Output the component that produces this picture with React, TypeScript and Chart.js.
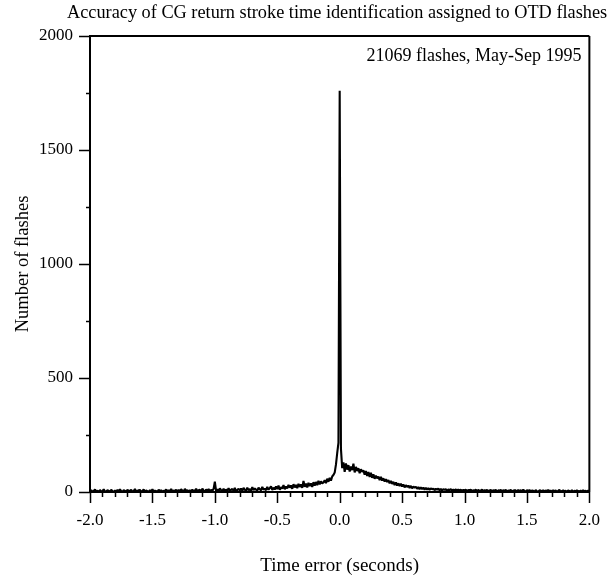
import React, { useEffect, useRef } from "react";
import { Chart, registerables } from "chart.js";

Chart.register(...registerables);

const TITLE = "Accuracy of CG return stroke time identification assigned to OTD flashes";
const NOTE = "21069 flashes, May-Sep 1995";
const X_TITLE = "Time error (seconds)";
const Y_TITLE = "Number of flashes";

// bin start and width (seconds), bins from -2.00 to 2.00
const BIN_FIRST = -2.0;
const BIN_WIDTH = 0.01;

// counts per 0.01 s bin, -2.00 .. -0.01
const countsNeg: number[] = [
  2, 8, 1, 5, 11, 3, 6, 0, 9, 2, 4, 12, 1, 3, 8, 5, 2, 10, 4, 1,
  6, 2, 9, 1, 12, 4, 0, 8, 5, 1, 10, 3, 6, 9, 2, 4, 13, 2, 5, 8,
  9, 2, 5, 11, 1, 7, 4, 0, 8, 3, 12, 2, 6, 4, 1, 10, 3, 8, 2, 5,
  4, 11, 2, 8, 3, 13, 1, 7, 4, 10, 2, 9, 3, 12, 6, 1, 14, 4, 8, 3,
  7, 3, 11, 2, 6, 14, 3, 8, 10, 2, 15, 5, 3, 11, 6, 13, 2, 9, 5, 14,
  45, 4, 12, 3, 16, 8, 4, 14, 3, 11, 6, 17, 4, 10, 13, 5, 18, 3, 9, 14,
  7, 15, 5, 18, 9, 6, 19, 8, 13, 5, 21, 8, 16, 10, 6, 19, 12, 7, 22, 11,
  14, 8, 22, 10, 17, 25, 9, 19, 11, 24, 13, 28, 10, 21, 15, 30, 12, 24, 16, 31,
  19, 29, 14, 34, 20, 31, 17, 36, 22, 33, 18, 48, 23, 37, 20, 40, 26, 38, 22, 43,
  28, 44, 30, 49, 33, 47, 38, 42, 52, 39, 58, 45, 62, 50, 68, 75, 85, 120, 170, 215,
];
// count in the 0.00 bin
const countsZero: number[] = [1760];
// counts per 0.01 s bin, 0.01 .. 2.00
const countsPos: number[] = [
  190, 105, 130, 88, 125, 98, 118, 90, 112, 96, 124, 86, 110, 92, 104, 82, 100, 88, 95, 76,
  92, 70, 88, 66, 84, 62, 78, 58, 72, 60, 68, 52, 66, 50, 60, 46, 56, 44, 52, 38,
  48, 36, 44, 30, 42, 28, 38, 26, 36, 24, 33, 20, 30, 22, 28, 18, 27, 16, 24, 19,
  23, 14, 22, 12, 20, 13, 19, 10, 18, 11, 17, 9, 16, 12, 15, 8, 14, 10, 15, 7,
  14, 6, 13, 9, 12, 5, 11, 8, 13, 6, 10, 7, 12, 4, 11, 7, 10, 5, 9, 8,
  10, 4, 9, 7, 11, 3, 8, 6, 10, 3, 9, 5, 7, 10, 4, 8, 6, 9, 3, 7,
  9, 3, 8, 5, 10, 2, 7, 6, 9, 3, 8, 4, 10, 2, 7, 5, 9, 3, 6, 8,
  7, 2, 9, 4, 8, 3, 10, 5, 2, 8, 4, 9, 1, 7, 5, 2, 8, 4, 1, 7,
  6, 2, 8, 1, 7, 3, 9, 4, 6, 1, 8, 3, 7, 0, 5, 9, 2, 4, 7, 3,
  5, 1, 7, 4, 2, 8, 0, 5, 3, 7, 4, 2, 6, 1, 8, 3, 5, 2, 6, 4,
];

const yTickValues: number[] = [0, 500, 1000, 1500, 2000];
const xTickValues: number[] = [-2.0, -1.5, -1.0, -0.5, 0.0, 0.5, 1.0, 1.5, 2.0];

const FONT = "'Liberation Serif', 'Times New Roman', serif";

const decorPlugin = {
  id: "decor",
  afterDraw(chart: any) {
    const ctx = chart.ctx as CanvasRenderingContext2D;
    const ca = chart.chartArea;
    const xs = chart.scales.x;
    const ys = chart.scales.y;
    ctx.save();
    ctx.strokeStyle = "#000";
    ctx.lineWidth = 1.5;
    ctx.beginPath();
    // x ticks: minor every 0.1, major every 0.5
    for (let i = -20; i <= 20; i++) {
      const v = i / 10;
      const px = Math.round(xs.getPixelForValue(v)) + 0.5;
      const len = i % 5 === 0 ? 11 : 5;
      ctx.moveTo(px, ca.bottom);
      ctx.lineTo(px, ca.bottom + len);
    }
    // y ticks: minor every 250, major every 500
    for (let i = 0; i <= 8; i++) {
      const v = i * 250;
      const py = Math.round(ys.getPixelForValue(v)) + 0.5;
      const len = i % 2 === 0 ? 11 : 4;
      ctx.moveTo(ca.left, py);
      ctx.lineTo(ca.left - len, py);
    }
    ctx.stroke();
    // frame top and right
    ctx.lineWidth = 2;
    ctx.beginPath();
    ctx.moveTo(ca.left, ca.top);
    ctx.lineTo(ca.right, ca.top);
    ctx.moveTo(ca.right, ca.top);
    ctx.lineTo(ca.right, ca.bottom);
    ctx.stroke();

    ctx.fillStyle = "#000";
    ctx.textBaseline = "middle";
    ctx.font = `18.3px ${FONT}`;
    ctx.textAlign = "left";
    ctx.fillText(TITLE, 67, 13);
    ctx.font = `18px ${FONT}`;
    ctx.textAlign = "right";
    ctx.fillText(NOTE, ca.right - 8, 56);
    ctx.restore();
  },
};

export default function App() {
  const ref = useRef<HTMLCanvasElement | null>(null);
  useEffect(() => {
    if (!ref.current) return;
    const counts = [...countsNeg, ...countsZero, ...countsPos];
    const points = counts.map((c, i) => ({
      x: +(BIN_FIRST + i * BIN_WIDTH).toFixed(2),
      y: c,
    }));
    const chart = new Chart(ref.current, {
      type: "line",
      data: {
        datasets: [
          {
            data: points,
            borderColor: "#000",
            borderWidth: 2.1,
            pointRadius: 0,
            tension: 0,
            fill: false,
            borderJoinStyle: "bevel",
          },
        ],
      },
      options: {
        responsive: false,
        animation: false,
        events: [],
        layout: { padding: { top: 36, right: 17, left: 0, bottom: 0 } },
        plugins: {
          legend: { display: false },
          tooltip: { enabled: false },
          title: { display: false },
        },
        scales: {
          x: {
            type: "linear",
            min: -2,
            max: 2,
            afterBuildTicks: (s: any) => {
              s.ticks = xTickValues.map((v) => ({ value: v }));
            },
            afterFit: (s: any) => {
              s.height = 88;
            },
            ticks: {
              color: "#000",
              font: { family: FONT, size: 17 },
              padding: 8,
              maxRotation: 0,
              autoSkip: false,
              callback: (v: any) => Number(v).toFixed(1),
            },
            grid: {
              display: true,
              drawOnChartArea: false,
              drawTicks: true,
              tickLength: 10,
              tickColor: "rgba(0,0,0,0)",
            },
            border: { display: true, color: "#000", width: 2 },
            title: {
              display: true,
              text: X_TITLE,
              color: "#000",
              font: { family: FONT, size: 19 },
              padding: { top: 0, bottom: 3 },
            },
          },
          y: {
            type: "linear",
            min: 0,
            max: 2000,
            afterBuildTicks: (s: any) => {
              s.ticks = yTickValues.map((v) => ({ value: v }));
            },
            afterFit: (s: any) => {
              s.width = 90;
            },
            ticks: {
              color: "#000",
              font: { family: FONT, size: 17 },
              padding: 7,
              callback: (v: any) => String(v),
            },
            grid: {
              display: true,
              drawOnChartArea: false,
              drawTicks: true,
              tickLength: 10,
              tickColor: "rgba(0,0,0,0)",
            },
            border: { display: true, color: "#000", width: 2 },
            title: {
              display: true,
              text: Y_TITLE,
              color: "#000",
              font: { family: FONT, size: 18.5 },
              padding: { top: 12, bottom: 0 },
            },
          },
        },
      },
      plugins: [decorPlugin],
    });
    return () => chart.destroy();
  }, []);
  return (
    <div style={{ position: "absolute", left: 0, top: 0, width: 608, height: 580, background: "#fff" }}>
      <canvas ref={ref} width={608} height={580} />
    </div>
  );
}
